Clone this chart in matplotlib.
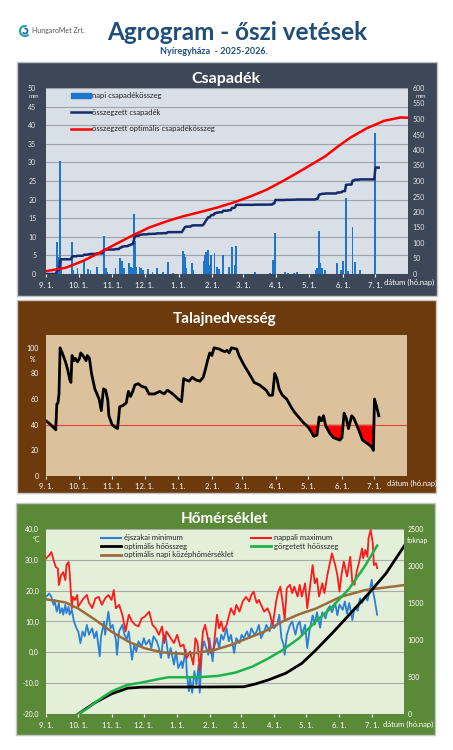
import numpy as np
import matplotlib
matplotlib.use("Agg")
import matplotlib.pyplot as plt
from matplotlib.patches import Rectangle, Patch, Arc
from matplotlib.lines import Line2D
from matplotlib.ticker import FuncFormatter

plt.rcParams['font.family'] = ['Lato', 'DejaVu Sans']

W, H = 453, 750

# days counted from 2025-09-01
month_days = [0, 30, 61, 91, 122, 153, 181, 212, 242, 273, 303]
month_labels = ["9. 1.", "10. 1.", "11. 1.", "12. 1.", "1. 1.", "2. 1.",
                "3. 1.", "4. 1.", "5. 1.", "6. 1.", "7. 1."]

# daily precipitation (mm), rainy days only
rain_days = [10, 11, 13, 14, 24, 25, 29, 35, 39, 41,
             47, 53, 55, 56, 64, 68, 70, 72, 76, 78,
             79, 81, 82, 83, 86, 87, 89, 94, 98, 102,
             108, 112, 117, 126, 127, 128, 129, 134, 135, 145,
             146, 147, 148, 149, 151, 152, 155, 157, 159, 163,
             168, 171, 174, 175, 192, 206, 209, 211, 220, 223,
             228, 231, 248, 249, 251, 252, 254, 257, 268, 271,
             273, 276, 278, 282, 284, 289, 303]
rain_mm = [8.5, 4.5, 30.5, 4.0, 8.7, 1.0, 1.5, 3.5, 1.3, 1.2,
           2.0, 10.2, 1.5, 0.5, 1.5, 4.3, 3.5, 1.5, 3.0, 2.0,
           1.5, 16.2, 9.0, 2.0, 2.0, 1.5, 1.0, 1.3, 0.5, 1.5,
           0.5, 3.2, 0.3, 6.2, 5.5, 4.5, 1.5, 3.0, 1.0, 3.5,
           5.2, 6.0, 4.5, 6.5, 2.5, 5.0, 5.7, 2.0, 1.3, 5.0,
           1.8, 7.2, 2.5, 7.5, 0.5, 0.3, 3.8, 11.0, 0.5, 0.3,
           0.3, 0.5, 1.0, 1.5, 11.5, 3.0, 1.5, 1.0, 3.0, 1.0,
           3.5, 20.5, 0.7, 12.5, 3.2, 1.0, 38.0]
n_days = 307

# optimal cumulative precipitation (mm)
opt_days = [0, 18, 34, 50, 65, 80, 95, 111, 126, 142, 157, 172,
            188, 203, 218, 233, 245, 257, 268, 280, 295, 311, 326, 333]
opt_mm = [9, 20, 42, 70, 98, 125, 150, 170, 186, 200, 214, 230,
          250, 272, 300, 330, 355, 380, 410, 440, 470, 494, 505, 504]

# soil moisture (%)
sm_days = [0, 3, 8, 9, 10, 11, 12, 13, 15, 18,
           20, 22, 23, 24, 26, 27, 29, 31, 32, 34,
           37, 38, 40, 42, 45, 47, 49, 51, 53, 55,
           57, 58, 61, 64, 66, 68, 71, 74, 76, 78,
           80, 82, 85, 88, 92, 95, 100, 105, 109, 112,
           117, 122, 125, 127, 129, 132, 135, 138, 142, 145,
           147, 149, 151, 153, 155, 160, 162, 165, 167, 169,
           171, 176, 178, 183, 188, 192, 197, 200, 203, 206,
           209, 211, 213, 215, 218, 222, 226, 229, 232, 237,
           242, 245, 247, 250, 252, 254, 256, 258, 262, 265,
           268, 271, 273, 275, 277, 279, 282, 284, 288, 292,
           297, 300, 302, 303, 305, 307]
sm_pct = [43, 41, 37, 36, 56, 57, 64, 100, 96, 89,
          83, 75, 73, 94, 90, 92, 89, 92, 96, 94,
          90, 94, 92, 80, 68, 64, 60, 51, 68, 67,
          59, 47, 40, 38, 37, 54, 55, 57, 66, 62,
          66, 71, 72, 70, 69, 64, 64, 66, 64, 67,
          64, 60, 58, 76, 75, 74, 77, 75, 74, 77,
          83, 90, 96, 94, 100, 99, 98, 97, 98, 96,
          100, 99, 94, 86, 79, 73, 71, 69, 67, 63,
          63, 80, 76, 68, 63, 60, 54, 50, 47, 42,
          38, 34, 31, 32, 46, 43, 47, 39, 33, 30,
          29, 28, 30, 49, 45, 37, 47, 45, 37, 28,
          25, 23, 20, 60, 54, 47]
sm_limit = 40

# daily maximum temperature (°C)
tmax_days = [0, 3, 5, 7, 9, 11, 12, 14, 16, 18,
             19, 21, 22, 24, 25, 27, 29, 30, 33, 35,
             38, 40, 43, 46, 49, 52, 55, 58, 61, 63,
             65, 68, 71, 74, 77, 80, 83, 86, 89, 92,
             96, 99, 102, 105, 108, 110, 112, 116, 119, 122,
             125, 128, 130, 131, 134, 137, 139, 141, 143, 146,
             148, 150, 153, 156, 159, 161, 163, 165, 168, 172,
             175, 177, 180, 183, 186, 189, 191, 193, 196, 198,
             200, 203, 206, 208, 211, 214, 216, 218, 220, 222,
             224, 227, 229, 231, 234, 236, 238, 241, 243, 245,
             248, 250, 252, 254, 257, 259, 262, 264, 266, 269,
             271, 273, 275, 277, 280, 283, 285, 287, 289, 291,
             294, 295, 297, 299, 300, 302, 304, 305, 307, 308]
tmax = [30.4, 31.5, 32.5, 30.0, 27.7, 27.2, 21.8, 25.0, 26.0, 23.4,
        28.3, 29.3, 26.0, 14.3, 18.0, 17.0, 18.6, 14.8, 16.5, 17.5,
        18.6, 16.0, 14.3, 17.5, 18.0, 15.4, 17.5, 18.6, 17.0, 20.2,
        14.3, 15.4, 12.2, 6.8, 12.2, 10.0, 8.9, 8.4, 11.0, 11.6,
        13.2, 8.9, 7.8, 5.7, 8.4, 3.0, 6.8, 4.6, 3.0, 5.7,
        1.9, 2.5, -1.3, -1.8, 0.3, -4.0, 4.6, 3.0, -6.0, 6.8,
        8.9, 5.7, -0.2, 1.4, 12.2, 7.8, 10.0, 6.8, 8.9, 14.3,
        12.2, 15.4, 13.2, 16.5, 18.0, 16.5, 18.6, 19.7, 16.0, 17.0,
        15.4, 13.2, 14.3, 12.7, 8.9, 16.5, 19.7, 21.3, 16.5, 10.6,
        20.8, 21.9, 19.2, 21.3, 18.1, 21.9, 18.1, 22.4, 14.3, 19.7,
        28.3, 22.4, 24.0, 18.1, 22.4, 19.2, 25.6, 28.9, 32.1, 28.3,
        25.1, 19.7, 25.6, 29.4, 24.6, 31.0, 22.4, 21.9, 26.2, 28.9,
        33.7, 30.5, 33.2, 31.0, 37.0, 39.7, 35.3, 28.3, 28.9, 27.3]

# daily minimum temperature (°C)
tmin_days = [0, 3, 5, 7, 8, 10, 12, 13, 15, 16,
             18, 19, 21, 22, 24, 26, 29, 30, 32, 34,
             36, 38, 40, 43, 45, 47, 50, 51, 54, 55,
             58, 60, 62, 65, 66, 68, 71, 73, 75, 77,
             80, 82, 84, 86, 89, 91, 93, 96, 98, 100,
             103, 105, 107, 109, 111, 112, 114, 116, 119, 121,
             123, 126, 127, 130, 131, 133, 134, 136, 138, 140,
             142, 143, 145, 147, 149, 151, 152, 155, 156, 159,
             161, 163, 165, 168, 170, 172, 175, 177, 180, 182,
             184, 187, 189, 191, 194, 196, 198, 200, 203, 205,
             208, 210, 212, 215, 217, 219, 221, 222, 224, 227,
             229, 232, 234, 236, 238, 241, 243, 245, 248, 250,
             252, 255, 257, 260, 262, 264, 266, 269, 271, 273,
             276, 278, 280, 282, 285, 287, 290, 292, 294, 297,
             299, 301, 303, 304, 306, 308]
tmin = [18.0, 19.1, 18.0, 15.4, 17.0, 13.2, 16.0, 12.7, 14.3, 12.2,
        15.4, 12.7, 14.8, 12.2, 13.8, 10.0, 7.3, 6.8, 3.0, 6.8,
        5.2, 8.9, 5.7, 7.8, 4.6, 6.8, -1.3, 4.6, 10.0, 5.7,
        13.2, 7.8, 8.9, 4.1, -0.8, 6.8, 8.9, 5.7, 4.1, 6.8,
        -2.4, 2.5, 0.3, 3.6, 1.9, 4.6, 2.5, 4.1, 1.4, 5.2,
        3.6, 1.4, -1.8, 4.6, 5.7, 3.6, -1.8, 1.4, -4.0, 0.3,
        -5.1, -2.9, -5.1, 0.9, -7.2, -12.6, -8.3, -13.1, -6.1, -10.4,
        -4.0, -13.1, 0.3, 3.6, 1.4, -0.8, 4.6, -2.9, 1.4, 4.6,
        1.4, 5.7, 4.1, 7.8, 3.6, 5.7, -0.2, 4.6, 3.0, 5.7,
        4.6, 6.8, 4.6, 7.8, 5.7, 6.8, 8.9, 4.6, 6.8, 8.9,
        6.8, 10.0, 7.8, 8.9, 12.2, 4.6, 2.5, -0.8, 5.7, 8.9,
        10.0, 5.7, 8.9, 10.0, 5.7, 8.9, 1.4, 6.8, 12.0, 9.0,
        13.0, 8.0, 13.0, 11.0, 14.0, 15.0, 13.0, 16.0, 12.0, 15.5,
        13.8, 16.5, 12.5, 16.0, 10.5, 14.5, 13.5, 17.5, 16.0, 18.2,
        16.8, 19.7, 23.5, 20.3, 16.5, 12.2]

# optimal daily mean temperature (°C)
mean_days = [0, 18, 30, 46, 61, 77, 92, 108, 131, 156,
             172, 187, 203, 220, 235, 251, 274, 297, 315, 333]
opt_mean = [17.2, 16.2, 14.2, 10.5, 6.7, 3.4, 1.3, 0.0, -0.6, 0.7,
            2.4, 4.5, 6.7, 10.0, 12.3, 14.2, 18.0, 20.2, 21.0, 21.8]

# accumulated heat sum (foknap)
heat_days = [30, 38, 45, 53, 61, 68, 76, 89, 104, 114, 130, 145,
             160, 176, 192, 207, 220, 235, 251, 266, 282, 297, 308]
heat_sum = [0, 70, 148, 230, 304, 350, 394, 425, 470, 497, 497, 500,
            515, 559, 640, 753, 864, 1020, 1250, 1446, 1694, 2007, 2276]

# optimal heat sum (foknap)
optheat_days = [30, 45, 61, 76, 89, 110, 150, 184, 195,
                207, 223, 238, 251, 266, 276, 300, 316, 335]
optheat_sum = [0, 148, 273, 349, 363, 365, 365, 368, 407,
               461, 551, 685, 864, 1089, 1245, 1626, 1895, 2310]


def box(x0, y0, x1, y1):
    return [x0 / W, 1 - y1 / H, (x1 - x0) / W, (y1 - y0) / H]


def day_axis(ax, pad):
    ax.set_xlim(0, 333)
    ax.set_xticks(month_days)
    ax.set_xticklabels(month_labels)
    ax.tick_params(axis='x', colors='white', labelsize=5.5, length=2, pad=pad)
    for s in ax.spines.values():
        s.set_visible(False)


fig = plt.figure(figsize=(W / 100, H / 100), dpi=100)
fig.patch.set_facecolor('white')

# panel backgrounds
panels = [(17, 62, 437, 296, '#3c4858'),
          (17, 300, 436, 493, '#6c3a0c'),
          (16, 503, 435, 735, '#5a8a38')]
for x0, y0, x1, y1, c in panels:
    b = box(x0, y0, x1, y1)
    fig.add_artist(Rectangle((b[0], b[1]), b[2], b[3], transform=fig.transFigure,
                             facecolor=c, edgecolor='#c4c4c4', lw=1, zorder=-1))

# header
fig.text(237 / W, 1 - 33 / H, "Agrogram - őszi vetések", ha='center', va='center',
         fontsize=17.5, fontweight='bold', color='#1f4e79')
fig.text(214 / W, 1 - 52 / H, "Nyíregyháza  - 2025-2026.", ha='center', va='center',
         fontsize=6.5, fontweight='bold', color='#1f4e79')
fig.text(32 / W, 1 - 31 / H, "HungaroMet Zrt.", ha='left', va='center',
         fontsize=5, color='#555555')
fig.add_artist(Arc((25 / W, 1 - 31 / H), 10 / W, 10 / H, theta1=60, theta2=330,
                   transform=fig.transFigure, color='#2aa6a0', lw=1.6))
fig.add_artist(Arc((25 / W, 1 - 31 / H), 5 / W, 5 / H, theta1=200, theta2=470,
                   transform=fig.transFigure, color='#1f5fa8', lw=1.2))

# panel titles
fig.text(226 / W, 1 - 79 / H, "Csapadék", ha='center', va='center',
         fontsize=11.5, fontweight='bold', color='white')
fig.text(225 / W, 1 - 319 / H, "Talajnedvesség", ha='center', va='center',
         fontsize=11, fontweight='bold', color='white')
fig.text(225 / W, 1 - 519 / H, "Hőmérséklet", ha='center', va='center',
         fontsize=11, fontweight='bold', color='white')

# ---- precipitation ----
ax1 = fig.add_axes(box(46, 88, 408, 274))
ax1.set_facecolor('#d9dfe7')
ax1.bar(rain_days, rain_mm, width=1.7, color='#1f74cc', lw=0, zorder=2)
ax1.set_ylim(0, 50)
ax1.set_yticks(range(0, 51, 5))
ax1.grid(axis='y', color='#9ea3aa', lw=0.8)
ax1.set_axisbelow(True)
ax1.tick_params(axis='y', colors='#e6e6e6', labelsize=5, length=0, pad=7)
day_axis(ax1, 3.5)

daily = np.zeros(n_days)
daily[rain_days] = rain_mm
ax1r = ax1.twinx()
ax1r.plot(np.arange(n_days), np.cumsum(daily), color='#142a6b', lw=1.8)
ax1r.plot(opt_days, opt_mm, color='red', lw=1.8)
ax1r.set_ylim(0, 600)
ax1r.set_yticks(range(0, 601, 50))
ax1r.tick_params(axis='y', colors='#e6e6e6', labelsize=5, length=0, pad=3.5)
for s in ax1r.spines.values():
    s.set_visible(False)
ax1r.legend([Patch(color='#1f74cc'), Line2D([], [], color='#142a6b', lw=1.8),
             Line2D([], [], color='red', lw=1.8)],
            ['napi csapadékösszeg', 'összegzett csapadék', 'összegzett optimális csapadékösszeg'],
            loc='upper left', bbox_to_anchor=(66 / W, 1 - 87 / H), bbox_transform=fig.transFigure,
            frameon=False, fontsize=5.5, labelspacing=1.25, handlelength=2.6,
            handletextpad=0.1, borderpad=0.2, labelcolor='#222222')
fig.text(34 / W, 1 - 96 / H, "mm", ha='center', va='center', fontsize=4.5, color='#e6e6e6')
fig.text(421 / W, 1 - 96 / H, "mm", ha='center', va='center', fontsize=4.5, color='#e6e6e6')
fig.text(384 / W, 1 - 282 / H, "dátum (hó.nap)", ha='left', va='center', fontsize=5.5, color='white')

# ---- soil moisture ----
ax2 = fig.add_axes(box(46, 335, 407, 476))
ax2.set_facecolor('#dcc29c')
sm = np.array(sm_pct)
ax2.fill_between(sm_days, sm, sm_limit, where=sm < sm_limit, interpolate=True,
                 color='red', lw=0, zorder=2)
ax2.axhline(sm_limit, color='#f04040', lw=0.8, zorder=3)
ax2.plot(sm_days, sm_pct, color='black', lw=2, zorder=4)
ax2.set_ylim(0, 110)
ax2.set_yticks(range(0, 101, 20))
ax2.tick_params(axis='y', colors='white', labelsize=5, length=0, pad=5)
day_axis(ax2, 3)
fig.text(33 / W, 1 - 359 / H, "%", ha='center', va='center', fontsize=5, color='white')
fig.text(387 / W, 1 - 483 / H, "dátum (hó.nap)", ha='left', va='center', fontsize=5.5, color='white')

# ---- temperature ----
c_min, c_max, c_mean = '#2a80d5', '#ff1a1a', '#9c6b3c'
c_heat, c_opt = '#1db34a', 'black'
ax3 = fig.add_axes(box(46, 529, 404, 714))
ax3.set_facecolor('#e4efda')
ax3.plot(tmin_days, tmin, color=c_min, lw=1.3, zorder=3)
ax3.plot(tmax_days, tmax, color=c_max, lw=1.3, zorder=3)
ax3.plot(mean_days, opt_mean, color=c_mean, lw=1.8, zorder=4)
ax3.set_ylim(-20, 40)
ax3.set_yticks(range(-20, 41, 10))
ax3.yaxis.set_major_formatter(FuncFormatter(lambda v, p: f"{v:.1f}".replace('.', ',')))
ax3.grid(axis='y', color='#a8aaa8', lw=0.8)
ax3.set_axisbelow(True)
ax3.tick_params(axis='y', colors='white', labelsize=5, length=0, pad=5)
day_axis(ax3, 4)

ax3r = ax3.twinx()
ax3r.plot(optheat_days, optheat_sum, color=c_opt, lw=2)
ax3r.plot(heat_days, heat_sum, color=c_heat, lw=1.8)
ax3r.set_ylim(0, 2500)
ax3r.set_yticks(range(0, 2501, 500))
ax3r.tick_params(axis='y', colors='white', labelsize=5, length=0, pad=2.5)
for s in ax3r.spines.values():
    s.set_visible(False)

leg_kw = dict(loc='upper left', bbox_transform=fig.transFigure, frameon=False, fontsize=5.5,
              labelspacing=0.2, handlelength=2.6, handletextpad=0.3, borderpad=0.2,
              labelcolor='#222222')
leg_a = ax3r.legend([Line2D([], [], color=c_min, lw=1.5), Line2D([], [], color=c_opt, lw=2),
                     Line2D([], [], color=c_mean, lw=2)],
                    ['éjszakai minimum', 'optimális hőösszeg', 'optimális napi középhőmérséklet'],
                    bbox_to_anchor=(96 / W, 1 - 529 / H), **leg_kw)
ax3r.add_artist(leg_a)
ax3r.legend([Line2D([], [], color=c_max, lw=1.5), Line2D([], [], color=c_heat, lw=2)],
            ['nappali maximum', 'görgetett hőösszeg'],
            bbox_to_anchor=(246 / W, 1 - 529 / H), **leg_kw)
fig.text(36 / W, 1 - 540 / H, "°C", ha='center', va='center', fontsize=5, color='white')
fig.text(407 / W, 1 - 540 / H, "foknap", ha='left', va='center', fontsize=5, color='white')
fig.text(383 / W, 1 - 724 / H, "dátum (hó.nap)", ha='left', va='center', fontsize=5.5, color='white')

fig.savefig("out.png", dpi=100)
